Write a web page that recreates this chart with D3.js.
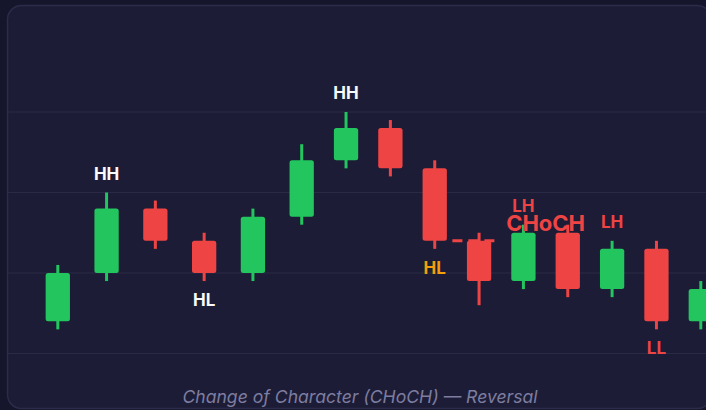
<!DOCTYPE html>
<html>
<head>
<meta charset="utf-8">
<script src="https://cdn.jsdelivr.net/npm/d3@7"></script>
<style>
  html, body { margin: 0; padding: 0; overflow: hidden; background: #15152b; }
  svg { display: block; }
</style>
</head>
<body>
<script>
//============================================================
// Data
var times  = [0, 11, 22, 33, 44, 55, 65, 75, 85, 95, 105, 115, 125, 135, 145];
var opens  = [104, 110, 118, 114, 110, 117, 124, 128, 123, 114, 109, 115, 108, 113, 104];
var highs  = [111, 120, 119, 115, 118, 126, 130, 129, 124, 115, 116, 116, 114, 114, 109];
var lows   = [103, 109, 113, 109, 109, 116, 123, 122, 113, 106, 108, 107, 107, 103, 103];
var closes = [110, 118, 114, 110, 117, 124, 128, 123, 114, 109, 115, 108, 113, 104, 108];

var gridLevels = [100, 110, 120, 130];

// structure labels: candle index, text, side, colour
var labelIdx   = [1, 3, 6, 8, 10, 12, 13];
var labelText  = ["HH", "HL", "HH", "HL", "LH", "LH", "LL"];
var labelSide  = ["above", "below", "above", "below", "above", "above", "below"];
var labelColor = ["#f8fafc", "#f8fafc", "#f8fafc", "#f59e0b", "#ef4444", "#ef4444", "#ef4444"];

var breakLevel = 114;      // level that gets broken (CHoCH)
var breakFrom = 8, breakTo = 9;
var chochBetween = [10, 11];

var subtitle = "Change of Character (CHoCH) \u2014 Reversal";

//============================================================
// Set up SVG
var W = 720, H = 410;
var green = "#22c55e", red = "#ef4444";

var svg = d3.select("body")
  .append("svg")
  .attr("width", W)
  .attr("height", H);

svg.append("rect")
  .attr("x", 7.5).attr("y", 5.5)
  .attr("width", 704).attr("height", 403)
  .attr("rx", 14)
  .style("fill", "#1c1c36")
  .style("stroke", "#2c2c4a")
  .style("stroke-width", 1.5);

var x = d3.scaleLinear().domain([0, 145]).range([57.8, 700.8]);
var y = d3.scaleLinear().domain([100, 130]).range([353.5, 112]);
var bodyW = 24.3;

//============================================================
// Grid
svg.selectAll(".grid")
  .data(gridLevels)
  .enter()
  .append("line")
  .attr("x1", 8).attr("x2", 711)
  .attr("y1", function (d) { return y(d); })
  .attr("y2", function (d) { return y(d); })
  .style("stroke", "#2a2a46")
  .style("stroke-width", 1.2);

//============================================================
// Break level dashed line (drawn under candles)
svg.append("line")
  .attr("x1", x(times[breakFrom]) + bodyW / 2 + 5.5)
  .attr("x2", x(times[breakTo]) + bodyW / 2 + 5.5)
  .attr("y1", y(breakLevel)).attr("y2", y(breakLevel))
  .style("stroke", red)
  .style("stroke-width", 3)
  .style("stroke-dasharray", "10,6");

//============================================================
// Candles
var candles = d3.range(times.length);

svg.selectAll(".wick")
  .data(candles)
  .enter()
  .append("line")
  .attr("x1", function (i) { return x(times[i]); })
  .attr("x2", function (i) { return x(times[i]); })
  .attr("y1", function (i) { return y(highs[i]); })
  .attr("y2", function (i) { return y(lows[i]); })
  .style("stroke", function (i) { return closes[i] >= opens[i] ? green : red; })
  .style("stroke-width", 3);

svg.selectAll(".body")
  .data(candles)
  .enter()
  .append("rect")
  .attr("x", function (i) { return x(times[i]) - bodyW / 2; })
  .attr("y", function (i) { return y(Math.max(opens[i], closes[i])); })
  .attr("width", bodyW)
  .attr("height", function (i) { return Math.abs(y(opens[i]) - y(closes[i])); })
  .attr("rx", 2.5)
  .style("fill", function (i) { return closes[i] >= opens[i] ? green : red; });

//============================================================
// Labels
svg.selectAll(".lbl")
  .data(labelIdx)
  .enter()
  .append("text")
  .attr("x", function (d) { return x(times[d]); })
  .attr("y", function (d, k) {
    return labelSide[k] == "above" ? y(highs[d]) - 13 : y(lows[d]) + 25;
  })
  .attr("text-anchor", "middle")
  .style("font-family", "Inter, 'Noto Sans', sans-serif")
  .style("font-weight", 700)
  .style("font-size", "17px")
  .style("fill", function (d, k) { return labelColor[k]; })
  .text(function (d, k) { return labelText[k]; });

svg.append("text")
  .attr("x", (x(times[chochBetween[0]]) + x(times[chochBetween[1]])) / 2)
  .attr("y", y(breakLevel) - 10)
  .attr("text-anchor", "middle")
  .style("font-family", "Inter, 'Noto Sans', sans-serif")
  .style("font-weight", 700)
  .style("font-size", "22px")
  .style("fill", red)
  .text("CHoCH");

//============================================================
// Subtitle
svg.append("text")
  .attr("x", W / 2)
  .attr("y", 403.3)
  .attr("text-anchor", "middle")
  .style("font-family", "Inter, 'Noto Sans', sans-serif")
  .style("font-style", "italic")
  .style("font-size", "17.6px")
  .style("fill", "#7d7da0")
  .text(subtitle);
</script>
</body>
</html>
